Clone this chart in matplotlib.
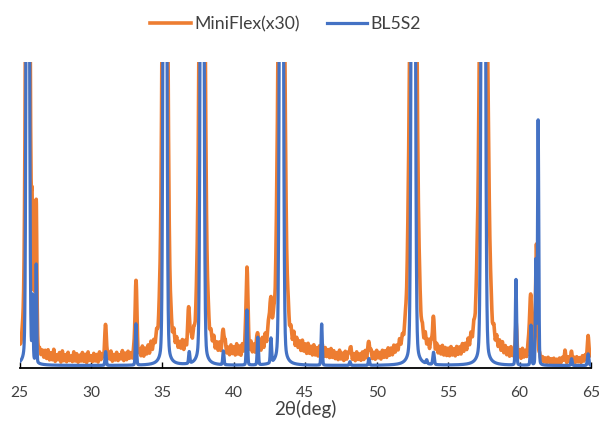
import numpy as np
import matplotlib
matplotlib.use("Agg")
import matplotlib.pyplot as plt

# ---------------- data ----------------
# peak positions (deg), heights (display units, 100 = top of plot), FWHM (deg)
orange_pos = [25.58, 25.88, 26.03, 26.17, 31.03, 33.15, 35.18, 36.85, 37.78, 39.27,
              40.92, 41.68, 42.55, 43.33, 46.15, 48.13, 49.46, 52.56, 53.96, 57.46,
              57.80, 59.75, 60.77, 61.18, 63.17, 63.64, 64.80]
orange_h = [320, 34, 28, 47, 10, 24, 280, 11, 280, 7,
            28, 5, 10, 260, 2, 3, 5, 260, 10, 260,
            18, 10, 19, 36, 3, 3, 6]
orange_w = [0.26, 0.10, 0.08, 0.10, 0.15, 0.15, 0.34, 0.15, 0.36, 0.15,
            0.15, 0.12, 0.25, 0.40, 0.15, 0.15, 0.15, 0.44, 0.15, 0.46,
            0.30, 0.12, 0.20, 0.15, 0.10, 0.10, 0.15]

# orange background noise, every 0.1 deg from 25.0 to 65.0
orange_bg = [
    3, 1.5, 3.5, 2, 3, 2, 3.5, 2, 3, 2, 3.5, 2, 3, 2, 3.5, 2, 4, 2, 4.5, 2,
    5, 1.8, 4.2, 2, 5.5, 1.6, 3.8, 2.2, 4.6, 1.5, 5.2, 2, 4, 1.7, 4.8, 2.1, 3.6, 1.8, 5, 2,
    4.4, 1.6, 3.9, 2, 4.8, 1.9, 4.2, 1.5, 5, 2.2, 3.7, 1.8, 4.5, 2, 4.1, 1.6, 4.9, 2.3, 4, 1.9,
    4.6, 2, 4.2, 2.4, 5.1, 1.8, 4, 2.2, 4.7, 2, 3.9, 2.5, 5.2, 1.9, 4.3, 2.1, 4.8, 2.4, 4.1, 2,
    4.8, 2.3, 5.4, 2, 4.5, 2.6, 5.8, 2.4, 4.9, 2.8, 5.5, 2.5, 6, 2.7, 5.2, 3, 5.9, 2.9, 6.3, 3.2,
    6, 3, 5.4, 2.8, 6.2, 3.1, 5.5, 2.7, 6.4, 3, 5.8, 2.9, 5.2, 3.2, 6.1, 2.8, 5.6, 3, 6.5, 3.3,
    6, 3.2, 5.5, 2.9, 6.3, 3.4, 5.7, 3, 6.6, 3.1, 5.4, 3.3, 6.2, 2.9, 5.8, 3.5, 6.4, 3, 5.6, 3.2,
    6.2, 3.3, 5.8, 3, 6.8, 3.4, 5.5, 3.1, 6.4, 3.6, 5.9, 3.2, 6.9, 3.5, 6.1, 3, 6.6, 3.7, 6.2, 3.4,
    6.5, 3.5, 7.2, 3.8, 6.4, 3.6, 7.5, 4, 6.9, 3.8, 7.8, 4.2, 8.4, 4.5, 7.6, 4.8, 8.8, 5, 8.2, 4.6,
    8.5, 4.8, 8, 4.5, 8.8, 5, 7.6, 4.4, 8.2, 4.6, 7.4, 4.2, 7.9, 4, 7.2, 4.3, 6.8, 3.9, 7.5, 4.1,
    6.6, 3.6, 7, 3.8, 6.2, 3.4, 6.8, 3.5, 5.9, 3.2, 6.4, 3.4, 5.7, 3, 6.1, 3.2, 5.5, 2.9, 5.9, 3,
    5.2, 2.6, 4.6, 2.3, 5.4, 2.5, 4.4, 2, 5, 2.4, 4.3, 2.1, 4.9, 2.2, 4.2, 1.9, 4.8, 2.3, 4.1, 2,
    4.7, 2.2, 5.1, 2.4, 4.3, 2, 4.9, 2.3, 4.4, 2.1, 5, 2.5, 4.2, 2, 4.8, 2.4, 4.5, 2.2, 5.2, 2.6,
    4.8, 2.4, 5.3, 2.7, 4.6, 2.5, 5.5, 2.8, 5, 2.6, 5.7, 3, 5.2, 2.8, 5.8, 3.1, 6, 3.2, 6.3, 3.4,
    6.2, 3.3, 5.8, 3.1, 6.5, 3.4, 5.6, 3, 6.1, 3.2, 5.5, 2.9, 6, 3.1, 5.4, 3, 5.9, 2.8, 5.3, 2.7,
    5.1, 2.6, 5.6, 2.8, 4.8, 2.4, 5.4, 2.7, 5, 2.5, 5.7, 2.9, 5.2, 2.7, 5.9, 3, 6.2, 3.2, 6.5, 3.4,
    6.6, 3.5, 7, 3.6, 6.8, 3.4, 6.4, 3.3, 6.9, 3.5, 6.2, 3.2, 6.6, 3.1, 6, 3, 5.8, 2.9, 6.1, 2.8,
    5.4, 2.6, 5, 2.4, 5.6, 2.7, 4.8, 2.3, 5.3, 2.5, 4.9, 2.2, 5.5, 2.6, 4.7, 2.3, 5.2, 2.5, 5, 2.4,
    4.8, 2.3, 4.2, 2, 3.6, 1.6, 3, 1.4, 2.8, 1.3, 3.1, 1.5, 2.7, 1.2, 2.9, 1.4, 2.6, 1.3, 3, 1.5,
    3.2, 1.6, 3, 1.4, 3.4, 1.7, 2.8, 1.5, 3.3, 1.6, 3.5, 1.8, 3.2, 1.6, 3.8, 2, 4, 2.2, 4.5, 2.4,
    4]
orange_bg_x = [25 + 0.1 * i for i in range(len(orange_bg))]

blue_pos = [25.58, 25.92, 26.17, 31.03, 33.15, 35.18, 36.88, 37.78, 39.27, 40.92,
            41.68, 42.60, 43.33, 46.15, 48.13, 49.46, 52.56, 53.50, 53.98, 57.46,
            59.75, 60.80, 61.14, 61.30, 63.64, 64.80]
blue_h = [450, 20, 32, 4.5, 13.5, 450, 3.8, 450, 4.5, 18,
          9, 8, 450, 13.5, 1.2, 2.2, 450, 1.2, 4, 450,
          28, 13, 34, 80, 2.2, 3.8]
blue_w = [0.18, 0.08, 0.08, 0.10, 0.10, 0.20, 0.10, 0.20, 0.10, 0.10,
          0.10, 0.10, 0.21, 0.10, 0.10, 0.10, 0.22, 0.10, 0.12, 0.23,
          0.10, 0.10, 0.08, 0.10, 0.10, 0.12]
blue_base = 0.8

x_ticks = [25, 30, 35, 40, 45, 50, 55, 60, 65]
label_orange = "MiniFlex(x30)"
label_blue = "BL5S2"
x_label = "2θ(deg)"

# ---------------- build curves ----------------
x = np.arange(25.0, 65.0001, 0.01)


def pattern(pos, h, w, eta):
    y = np.zeros_like(x)
    for p, a, f in zip(pos, h, w):
        hw = f / 2.0
        u = ((x - p) / hw) ** 2
        y += a * (eta / (1 + u) + (1 - eta) * np.exp(-np.log(2) * u))
    return y


y_orange = pattern(orange_pos, orange_h, orange_w, 0.3) + np.interp(x, orange_bg_x, orange_bg)
y_blue = pattern(blue_pos, blue_h, blue_w, 0.11) + blue_base

# ---------------- plot ----------------
plt.rcParams['font.family'] = ['Lato', 'DejaVu Sans']
fig = plt.figure(figsize=(6.03, 4.30), dpi=100)
ax = fig.add_axes([19.5 / 603, 62 / 430, 571.5 / 603, 306 / 430])

ax.plot(x, y_orange, color='#ED7D31', lw=2.6, label=label_orange, solid_joinstyle='round')
ax.plot(x, y_blue, color='#4472C4', lw=2.3, label=label_blue, solid_joinstyle='round')

ax.set_xlim(25, 65)
ax.set_ylim(0, 100)
ax.set_xticks(x_ticks)
ax.set_yticks([])
for s in ['top', 'right', 'left']:
    ax.spines[s].set_visible(False)
ax.spines['bottom'].set_color('black')
ax.spines['bottom'].set_linewidth(1.3)
ax.spines['bottom'].set_zorder(0)
ax.tick_params(axis='x', direction='in', length=4, width=1, pad=13,
               labelsize=11.2, labelcolor='#404040')
ax.set_xlabel(x_label, fontsize=13.5, color='#404040', labelpad=0)

fig.legend(loc='center', bbox_to_anchor=(0.474, 0.944), ncol=2, frameon=False,
           fontsize=12.7, handlelength=2.3, handletextpad=0.2, columnspacing=1.5,
           labelcolor='#404040')

fig.savefig('out.png', dpi=100)
